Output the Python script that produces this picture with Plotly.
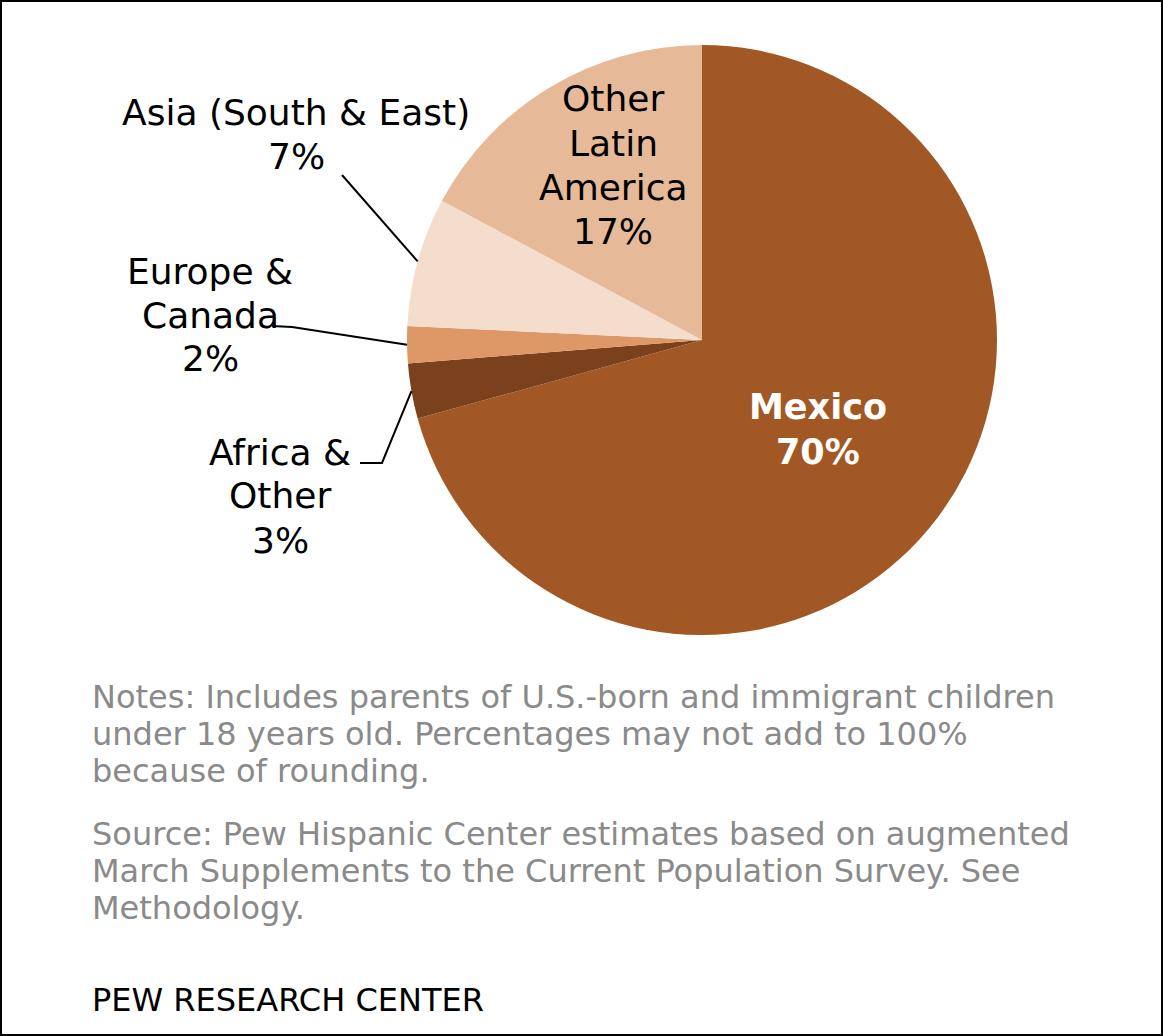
import math
import plotly.graph_objects as go

# ---- data ----
regions = ["Mexico", "Africa & Other", "Europe & Canada", "Asia (South & East)", "Other Latin America"]
shares = [70, 3, 2, 7, 17]
colors = ["#A15824", "#7B401C", "#DE9868", "#F5DDCD", "#E6BA98"]
label_lines = [["Mexico", "70%"], ["Africa &", "Other", "3%"], ["Europe &", "Canada", "2%"],
               ["Asia (South & East)", "7%"], ["Other", "Latin", "America", "17%"]]

notes_lines = ["Notes: Includes parents of U.S.-born and immigrant children",
               "under 18 years old. Percentages may not add to 100%",
               "because of rounding."]
source_lines = ["Source: Pew Hispanic Center estimates based on augmented",
                "March Supplements to the Current Population Survey. See",
                "Methodology."]
brand = "PEW RESEARCH CENTER"

# ---- layout geometry (pixels) ----
W, H = 1163, 1036
CX, CY, R = 702, 340, 295
FONT = "DejaVu Sans"


def px(x):
    return x / W


def py(y):
    return 1 - y / H


fig = go.Figure()
fig.add_trace(go.Pie(
    labels=regions, values=shares, sort=False, direction="clockwise", rotation=0,
    marker=dict(colors=colors, line=dict(width=0)),
    textinfo="none", hoverinfo="label+percent", showlegend=False,
    domain=dict(x=[px(CX - R), px(CX + R)], y=[py(CY + R), py(CY - R)]),
))

# edge point of each slice at its mid angle
total = sum(shares)
edges = []
cum = 0
for v in shares:
    mid = (cum + v / 2) / total * 2 * math.pi
    edges.append((CX + R * math.sin(mid), CY - R * math.cos(mid)))
    cum += v

# label block positions (pixels): x center, y of first line, line step
label_pos = [(818, 407, 45), (280, 452, 44), (210, 272, 43), (296, 112, 45), (613, 99, 44)]

annotations = []
for i, (lines, (lx, ly, step)) in enumerate(zip(label_lines, label_pos)):
    for j, line in enumerate(lines):
        if i == 0:
            font = dict(family=FONT, size=35, color="white")
            txt = "<b>" + line + "</b>"
        else:
            font = dict(family=FONT, size=36, color="black")
            txt = line
        annotations.append(dict(x=px(lx), y=py(ly + j * step), xref="paper", yref="paper",
                                text=txt, showarrow=False, font=font,
                                xanchor="center", yanchor="middle"))


def add_lines(lines, y0, step, color):
    for j, line in enumerate(lines):
        annotations.append(dict(x=px(90), y=py(y0 + j * step), xref="paper", yref="paper",
                                text=line, showarrow=False, xanchor="left", yanchor="middle",
                                font=dict(family=FONT, size=32, color=color)))


add_lines(notes_lines, 697, 37, "#8a8a8a")
add_lines(source_lines, 834, 37, "#8a8a8a")
add_lines([brand], 1000, 37, "black")


def path(points):
    return "M " + " L ".join(f"{px(x)},{py(y)}" for x, y in points)


shapes = [
    # leader lines
    dict(type="path", xref="paper", yref="paper",
         path=path([(342, 175), edges[3]]), line=dict(color="black", width=2)),
    dict(type="path", xref="paper", yref="paper",
         path=path([(272, 326), (292, 327), edges[2]]), line=dict(color="black", width=2)),
    dict(type="path", xref="paper", yref="paper",
         path=path([(360, 463), (382, 463), edges[1]]), line=dict(color="black", width=2)),
    # outer frame
    dict(type="rect", xref="paper", yref="paper", x0=0, x1=1, y0=0, y1=1,
         line=dict(color="black", width=4)),
]

fig.update_layout(
    width=W, height=H, margin=dict(l=0, r=0, t=0, b=0),
    paper_bgcolor="white", plot_bgcolor="white",
    annotations=annotations, shapes=shapes,
)

fig.write_html("out.html", config={"displayModeBar": False},
               post_script="document.body.style.margin='0';document.body.style.overflow='hidden';")
